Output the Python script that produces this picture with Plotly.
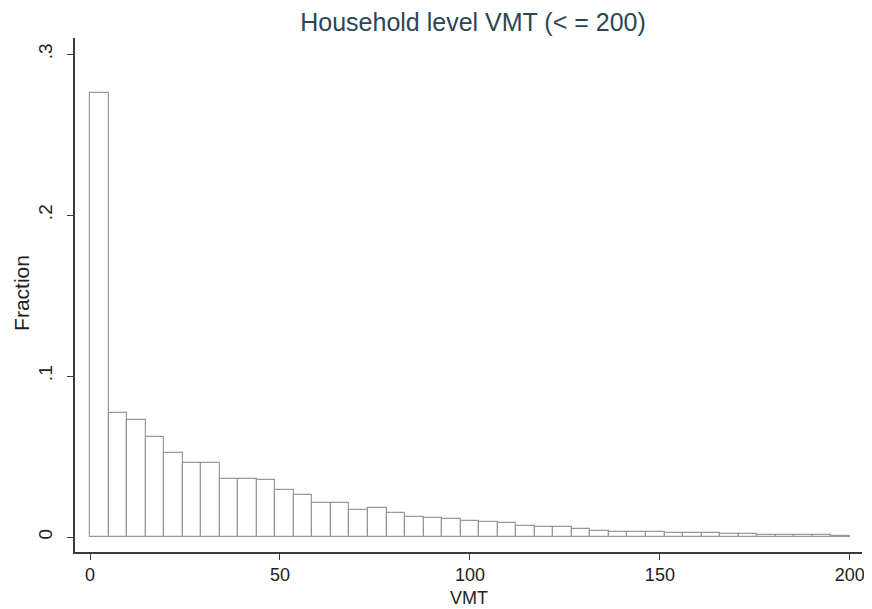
import numpy as np
import plotly.graph_objects as go

# Histogram of household-level VMT (<= 200), 41 equal-width bins from 0 to 200
vmt_min = 0
vmt_max = 200
fractions = [
    0.276, 0.077, 0.0727, 0.0623, 0.052, 0.046, 0.046, 0.036, 0.036, 0.0355,
    0.029, 0.026, 0.0213, 0.0213, 0.0168, 0.018, 0.015, 0.0126, 0.0118, 0.0115,
    0.0100, 0.0095, 0.0089, 0.0068, 0.0064, 0.0060, 0.0050, 0.0040, 0.0033, 0.0033,
    0.0030, 0.0028, 0.0025, 0.0024, 0.0019, 0.0017, 0.0015, 0.0013, 0.0011, 0.0010,
    0.0009,
]
x_tick_vals = [0, 50, 100, 150, 200]
y_tick_vals = [0, 0.1, 0.2, 0.3]
y_tick_text = ["0", ".1", ".2", ".3"]

n_bins = len(fractions)
bin_width = (vmt_max - vmt_min) / n_bins
centers = vmt_min + bin_width * (np.arange(n_bins) + 0.5)

fig = go.Figure()
fig.add_trace(go.Bar(
    x=centers,
    y=fractions,
    width=bin_width,
    marker=dict(color="white", line=dict(color="#999999", width=1.2)),
    hoverinfo="x+y",
))

# page body has an 8px default margin, so the figure is 8px smaller than the window
W, H = 864, 601
axis_color = "#3a3a3a"
text_color = "#222222"
fig.update_layout(
    width=W,
    height=H,
    margin=dict(l=67, r=10, t=30, b=57, autoexpand=False),
    paper_bgcolor="white",
    plot_bgcolor="white",
    showlegend=False,
    font=dict(family="Liberation Sans, Arial, sans-serif", color=text_color),
    title=dict(
        text="Household level VMT (< = 200)",
        x=465 / W, xanchor="center", xref="container",
        y=1 - 14 / H, yanchor="middle", yref="container",
        font=dict(size=25, color="#2b4656"),
    ),
    bargap=0,
    annotations=[
        dict(text="VMT", xref="paper", yref="paper", x=0.5, y=0,
             xanchor="center", yanchor="middle", yshift=-46, showarrow=False,
             font=dict(size=18, color=text_color)),
        dict(text="Fraction", xref="paper", yref="paper", x=0, y=0.504,
             xanchor="center", yanchor="middle", xshift=-53, textangle=-90,
             showarrow=False, font=dict(size=21, color=text_color)),
    ],
)
fig.update_xaxes(
    range=[-3.95, 203.2],
    tickvals=x_tick_vals,
    ticks="outside", ticklen=6, tickwidth=1.3, tickcolor=axis_color,
    showline=True, linecolor=axis_color, linewidth=1.5,
    showgrid=False, zeroline=False, automargin=False,
    tickfont=dict(size=18, color=text_color),
)
fig.update_yaxes(
    range=[-0.0093, 0.31],
    tickvals=y_tick_vals, ticktext=y_tick_text,
    tickangle=-90, ticklabelstandoff=8,
    ticks="outside", ticklen=6, tickwidth=1.3, tickcolor=axis_color,
    showline=True, linecolor=axis_color, linewidth=1.5,
    showgrid=False, zeroline=False, automargin=False,
    tickfont=dict(size=19, color=text_color),
)

fig.write_html("out.html")
